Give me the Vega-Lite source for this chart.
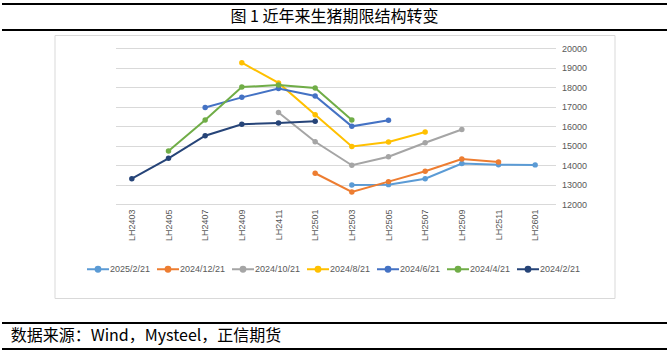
{
  "$schema": "https://vega.github.io/schema/vega-lite/v6.json",
  "padding": {"left": 1, "right": 5, "top": 3, "bottom": 3},
  "background": "white",
  "spacing": 5,
  "center": true,
  "bounds": "flush",
  "vconcat": [
    {
      "width": 665,
      "height": 26,
      "view": {"stroke": "black", "strokeWidth": 2, "strokeDash": [665, 26, 665, 26]},
      "data": {"values": [{"t": "图 1 近年来生猪期限结构转变"}]},
      "mark": {"type": "text", "font": "Noto Sans CJK SC", "fontSize": 16, "color": "#000000", "baseline": "middle"},
      "encoding": {"text": {"field": "t"}}
    },
    {
      "width": 560,
      "height": 263,
      "view": {"stroke": "#D9D9D9", "strokeWidth": 1, "fill": "white"},
      "data": {"values": [
        {"series": "2025/2/21", "contract": "LH2503", "price": 12980},
        {"series": "2025/2/21", "contract": "LH2505", "price": 12995},
        {"series": "2025/2/21", "contract": "LH2507", "price": 13300},
        {"series": "2025/2/21", "contract": "LH2509", "price": 14080},
        {"series": "2025/2/21", "contract": "LH2511", "price": 14020},
        {"series": "2025/2/21", "contract": "LH2601", "price": 14010},
        {"series": "2024/12/21", "contract": "LH2501", "price": 13580},
        {"series": "2024/12/21", "contract": "LH2503", "price": 12620},
        {"series": "2024/12/21", "contract": "LH2505", "price": 13150},
        {"series": "2024/12/21", "contract": "LH2507", "price": 13680},
        {"series": "2024/12/21", "contract": "LH2509", "price": 14310},
        {"series": "2024/12/21", "contract": "LH2511", "price": 14160},
        {"series": "2024/10/21", "contract": "LH2411", "price": 16700},
        {"series": "2024/10/21", "contract": "LH2501", "price": 15200},
        {"series": "2024/10/21", "contract": "LH2503", "price": 13990},
        {"series": "2024/10/21", "contract": "LH2505", "price": 14430},
        {"series": "2024/10/21", "contract": "LH2507", "price": 15150},
        {"series": "2024/10/21", "contract": "LH2509", "price": 15830},
        {"series": "2024/8/21", "contract": "LH2409", "price": 19260},
        {"series": "2024/8/21", "contract": "LH2411", "price": 18220},
        {"series": "2024/8/21", "contract": "LH2501", "price": 16590},
        {"series": "2024/8/21", "contract": "LH2503", "price": 14960},
        {"series": "2024/8/21", "contract": "LH2505", "price": 15190},
        {"series": "2024/8/21", "contract": "LH2507", "price": 15700},
        {"series": "2024/6/21", "contract": "LH2407", "price": 16960},
        {"series": "2024/6/21", "contract": "LH2409", "price": 17480},
        {"series": "2024/6/21", "contract": "LH2411", "price": 17930},
        {"series": "2024/6/21", "contract": "LH2501", "price": 17550},
        {"series": "2024/6/21", "contract": "LH2503", "price": 15990},
        {"series": "2024/6/21", "contract": "LH2505", "price": 16300},
        {"series": "2024/4/21", "contract": "LH2405", "price": 14720},
        {"series": "2024/4/21", "contract": "LH2407", "price": 16320},
        {"series": "2024/4/21", "contract": "LH2409", "price": 18010},
        {"series": "2024/4/21", "contract": "LH2411", "price": 18110},
        {"series": "2024/4/21", "contract": "LH2501", "price": 17960},
        {"series": "2024/4/21", "contract": "LH2503", "price": 16320},
        {"series": "2024/2/21", "contract": "LH2403", "price": 13300},
        {"series": "2024/2/21", "contract": "LH2405", "price": 14350},
        {"series": "2024/2/21", "contract": "LH2407", "price": 15510},
        {"series": "2024/2/21", "contract": "LH2409", "price": 16100},
        {"series": "2024/2/21", "contract": "LH2411", "price": 16160},
        {"series": "2024/2/21", "contract": "LH2501", "price": 16250}
      ]},
      "mark": {"type": "line", "strokeWidth": 2, "point": {"filled": true, "size": 30}},
      "encoding": {
        "x": {
          "field": "contract", "type": "nominal",
          "scale": {"type": "band", "domain": ["LH2403", "LH2405", "LH2407", "LH2409", "LH2411", "LH2501", "LH2503", "LH2505", "LH2507", "LH2509", "LH2511", "LH2601"], "range": [59, 499], "paddingInner": 0, "paddingOuter": 0},
          "axis": {"orient": "bottom", "offset": -94, "labelAngle": -90, "labelPadding": 5, "ticks": false, "domain": false, "grid": false, "title": null}
        },
        "y": {
          "field": "price", "type": "quantitative",
          "scale": {"domain": [12000, 20000], "range": [169, 13.3], "zero": false, "nice": false},
          "axis": {"orient": "right", "offset": -53, "values": [12000, 13000, 14000, 15000, 16000, 17000, 18000, 19000, 20000], "format": "d", "labelPadding": 0, "labelAlign": "left", "ticks": false, "domain": false, "grid": true, "gridColor": "#D9D9D9", "gridWidth": 1, "title": null}
        },
        "color": {
          "field": "series", "type": "nominal",
          "scale": {"domain": ["2025/2/21", "2024/12/21", "2024/10/21", "2024/8/21", "2024/6/21", "2024/4/21", "2024/2/21"], "range": ["#5B9BD5", "#ED7D31", "#A5A5A5", "#FFC000", "#4472C4", "#70AD47", "#264478"]},
          "legend": {
            "orient": "none", "legendX": 84, "legendY": 253, "direction": "horizontal", "title": null,
            "symbolType": "M-1,0H1M-0.22,0A0.22,0.22 0 1,0 0.22,0A0.22,0.22 0 1,0 -0.22,0Z",
            "symbolSize": 484, "symbolStrokeWidth": 2, "labelOffset": 0, "columnPadding": 2,
            "labelFont": "Liberation Sans", "labelFontSize": 9, "labelColor": "#595959",
            "encode": {"symbols": {"update": {"fill": {"scale": "color", "field": "value"}, "stroke": {"scale": "color", "field": "value"}}}}
          }
        }
      }
    },
    {
      "width": 665,
      "height": 15,
      "data": {"values": []},
      "mark": {"type": "text"},
      "encoding": {}
    },
    {
      "width": 665,
      "height": 26,
      "view": {"stroke": "black", "strokeWidth": 2, "strokeDash": [665, 26, 665, 26]},
      "data": {"values": [{"src": "数据来源：Wind，Mysteel，正信期货"}]},
      "mark": {"type": "text", "font": "Noto Sans CJK SC", "fontSize": 16, "color": "#000000", "align": "left", "baseline": "middle"},
      "encoding": {
        "text": {"field": "src"},
        "x": {"field": "src", "type": "nominal", "scale": {"type": "point", "align": 0.013}, "axis": null}
      }
    }
  ],
  "config": {
    "view": {"stroke": null},
    "axis": {"labelFont": "Liberation Sans", "labelFontSize": 9, "labelColor": "#595959"}
  }
}
